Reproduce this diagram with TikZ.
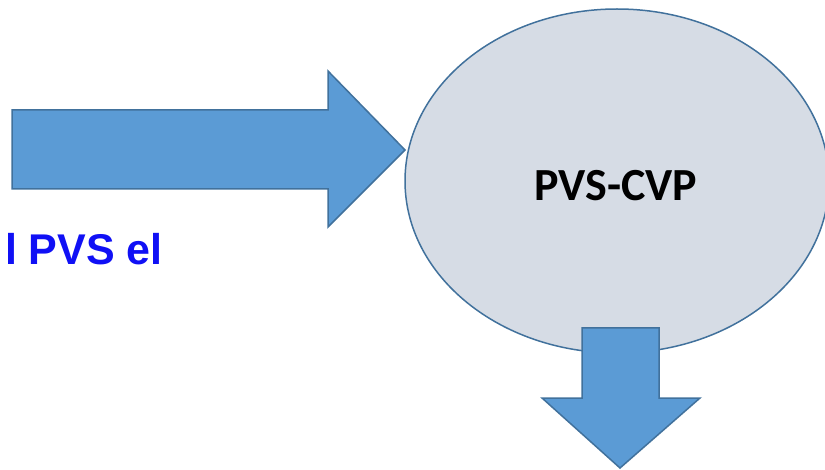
\documentclass[tikz,border=0pt]{standalone}
\usepackage{fontspec}
\setmainfont{Carlito}
\newfontfamily\arialfont{Liberation Sans}
\usetikzlibrary{shapes.geometric}
\definecolor{arrowblue}{HTML}{5B9BD5}
\definecolor{edgeblue}{HTML}{41719C}
\definecolor{ovalgray}{HTML}{D6DCE5}
\definecolor{textblue}{HTML}{1010F5}
\begin{document}
\begin{tikzpicture}[x=1pt,y=1pt]
\tikzset{fat arrow/.style={fill=arrowblue,draw=edgeblue,line width=1.5pt,line join=miter}}
\useasboundingbox (0,0) rectangle (825,469);
\clip (0,0) rectangle (825,469);
% oval
\draw[fill=ovalgray,draw=edgeblue,line width=1.5pt] (617,288) ellipse (212 and 172);
\node (cvp) at (616,283) [font=\bfseries\fontsize{46}{48}\selectfont]{PVS-CVP};
% arrow into the oval
\draw[fat arrow] (12,359)--(328,359)--(328,398)--(405,319)--(328,242)--(328,280)--(12,280)--cycle;
% arrow out of the oval
\draw[fat arrow] (582,141)--(659,141)--(659,71)--(700,71)--(620,1)--(542,71)--(582,71)--cycle;
\node (pvs) at (163,204) [anchor=base east,inner xsep=0pt,text=textblue,font=\arialfont\bfseries\fontsize{43}{45}\selectfont]{l PVS el};
\end{tikzpicture}
\end{document}
